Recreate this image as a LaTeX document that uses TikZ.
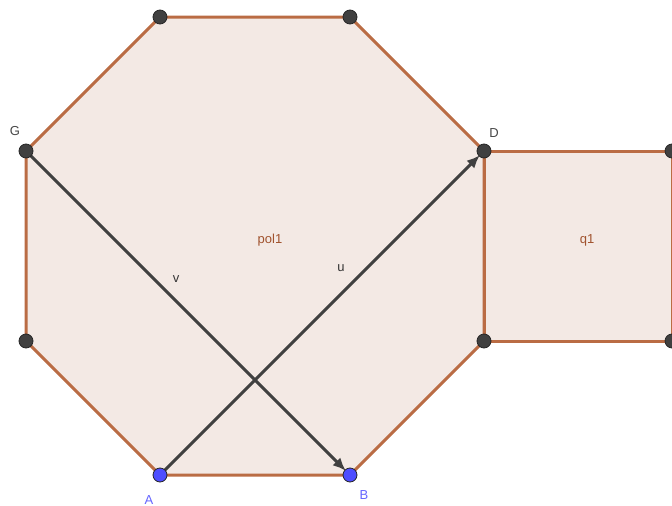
\documentclass[tikz,border=0pt]{standalone}
\usepackage{fontspec}
\setmainfont{Liberation Sans}
\usetikzlibrary{arrows.meta}
\definecolor{polyfill}{RGB}{243,233,228}
\definecolor{polyedge}{RGB}{186,108,68}
\definecolor{ptdark}{RGB}{64,64,64}
\definecolor{ptblue}{RGB}{77,77,255}
\definecolor{lblblue}{RGB}{100,100,255}
\definecolor{lblgray}{RGB}{70,70,70}
\definecolor{lblbrown}{RGB}{160,82,45}
\tikzset{
  pt/.style={circle,draw=black!85,line width=0.8pt,fill=ptdark,minimum size=14pt,inner sep=0pt},
  bpt/.style={pt,fill=ptblue},
  edge/.style={draw=polyedge,line width=3pt},
  vec/.style={draw=ptdark,line width=3pt,-{Latex[length=13pt,width=11pt]}},
  lbl/.style={font=\fontsize{13pt}{15pt}\selectfont,inner sep=0pt},
}
\begin{document}
\begin{tikzpicture}[x=1pt,y=-1pt]
\useasboundingbox (0,0) rectangle (672,506);
% coordinates
\coordinate (A) at (160,475);
\coordinate (B) at (350,475);
\coordinate (C) at (484,341);
\coordinate (D) at (484,151);
\coordinate (E) at (350,17);
\coordinate (F) at (160,17);
\coordinate (G) at (26,151);
\coordinate (H) at (26,341);
\coordinate (Q1) at (672,151);
\coordinate (Q2) at (672,341);
% fills
\fill[polyfill] (A) -- (B) -- (C) -- (D) -- (E) -- (F) -- (G) -- (H) -- cycle;
\fill[polyfill] (D) -- (Q1) -- (Q2) -- (C) -- cycle;
% edges
\draw[edge] (A) -- (B) -- (C) -- (D) -- (E) -- (F) -- (G) -- (H) -- cycle;
\draw[edge] (D) -- (Q1) -- (Q2) -- (C) -- cycle;
% vectors
\draw[vec,shorten >=6pt] (A) -- (D);
\draw[vec,shorten >=6pt] (G) -- (B);
% points
\node[bpt] (pA) at (A) {};
\node[bpt] (pB) at (B) {};
\node[pt] (pC) at (C) {};
\node[pt] (pD) at (D) {};
\node[pt] (pE) at (E) {};
\node[pt] (pF) at (F) {};
\node[pt] (pG) at (G) {};
\node[pt] (pH) at (H) {};
\node[pt] (pQ1) at (Q1) {};
\node[pt] (pQ2) at (Q2) {};
% labels
\node[lbl,text=lblgray] (lG) at (15,131) {G};
\node[lbl,text=lblgray] (lD) at (494,133) {D};
\node[lbl,text=lblblue] (lA) at (149,500) {A};
\node[lbl,text=lblblue] (lB) at (364,495) {B};
\node[lbl,text=lblbrown] (lpol) at (270,240) {pol1};
\node[lbl,text=lblbrown] (lq) at (587,240) {q1};
\node[lbl,text=black!80] (lu) at (341,268) {u};
\node[lbl,text=black!80] (lv) at (176,279) {v};
\end{tikzpicture}
\end{document}
